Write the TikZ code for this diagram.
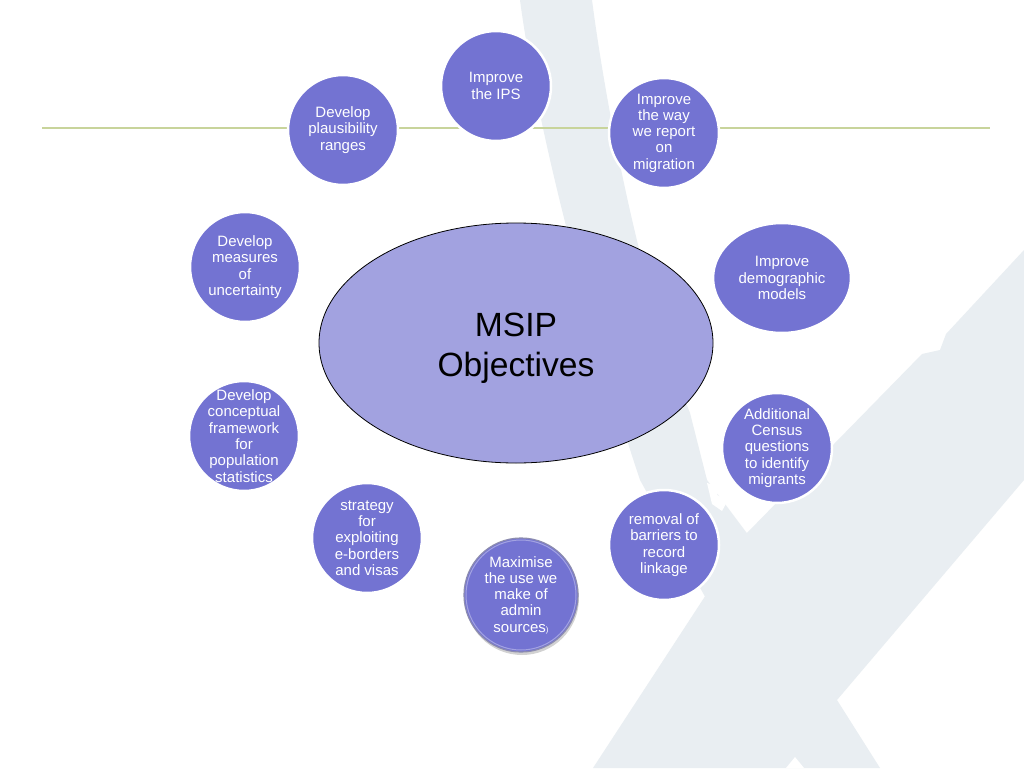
\documentclass[tikz,border=0pt]{standalone}
\usepackage{fontspec}
\setmainfont{Liberation Sans}
\usetikzlibrary{shapes.geometric,shadows}
\definecolor{circfill}{RGB}{115,115,210}
\definecolor{ellfill}{RGB}{162,162,224}
\definecolor{wmark}{RGB}{233,238,242}
\definecolor{gline}{RGB}{200,212,155}
\definecolor{bevel}{RGB}{140,140,175}
\begin{document}
\begin{tikzpicture}[x=1pt,y=-1pt,
  objcirc/.style={circle, fill=circfill, draw=white, line width=2.5pt, minimum size=110pt, inner sep=0pt},
  objtext/.style={text=white, align=center, font=\fontsize{15}{16.3}\selectfont, inner sep=0pt},
  wm/.style={fill=wmark, draw=none}]
% canvas
\fill[white] (0,0) rectangle (1024,768);
\useasboundingbox (0,0) rectangle (1024,768);
% watermark: curved upper-left arm
\path[wm] (520,0) -- (592,0) .. controls (605,100) and (640,290) .. (690,413)
  -- (707,480) -- (752,540) -- (708,602) -- (640,480)
  .. controls (600,360) and (540,150) .. (520,0) -- cycle;
% watermark: main diagonal band with lower-right leg
\path[wm] (593,768) -- (880,768) -- (837,700) -- (1024,480) -- (1024,250)
  -- (946,334) -- (940,350) -- (922,354) -- (745,535) -- cycle;
% small white notches of the watermark
\fill[white] (707,483) -- (721,487) -- (717,495) -- (728,500) -- (722,511) -- (712,504) -- cycle;
\fill[white] (786,768) -- (795,757) -- (804,768) -- cycle;
% green rule
\coordinate (gl-l) at (42,128);
\coordinate (gl-r) at (990,128);
\draw[gline, line width=2pt] (gl-l) -- (gl-r);
% centre ellipse
\node[ellipse, fill=ellfill, draw=black, line width=0.8pt, minimum width=394pt, minimum height=240pt, inner sep=0pt] (msip) at (516,343) {};
\node[align=center, font=\fontsize{33.6}{40}\selectfont, inner sep=0pt] (msip-t) at (516,348) {MSIP\\Objectives};
% objectives
\node[objcirc] (ips) at (496,86) {};
\node[objtext] (ips-t) at (ips) {Improve\\the IPS};
\node[objcirc] (plaus) at (343,130) {};
\node[objtext] (plaus-t) at (plaus) {Develop\\plausibility\\ranges};
\node[objcirc] (report) at (664,133) {};
\node[objtext] (report-t) at (report) {Improve\\the way\\we report\\on\\migration};
\node[ellipse, fill=circfill, draw=white, line width=2.5pt, minimum width=138pt, minimum height=110pt, inner sep=0pt] (demog) at (782,278) {};
\node[objtext] (demog-t) at (demog) {Improve\\demographic\\models};
\node[objcirc] (census) at (777,448) {};
\node[objtext] (census-t) at (census) {Additional\\Census\\questions\\to identify\\migrants};
\node[objcirc] (removal) at (664,545) {};
\node[objtext] (removal-t) at (removal) {removal of\\barriers to\\record\\linkage};
\node[circle, fill=circfill, draw=bevel, line width=1.2pt, minimum size=114pt, inner sep=0pt,
  drop shadow={shadow xshift=1pt, shadow yshift=-3pt, opacity=0.35}] (admin) at (521,595) {};
\draw[white, opacity=0.35, line width=1pt] (admin.center) circle (55pt);
\node[objtext] (admin-t) at (admin) {Maximise\\the use we\\make of\\admin\\sources{\fontsize{8}{8}\selectfont)}};
\node[objcirc] (strat) at (367,538) {};
\node[objtext] (strat-t) at (strat) {strategy\\for\\exploiting\\e-borders\\and visas};
\node[objcirc] (concept) at (244,436) {};
\node[objtext] (concept-t) at (concept) {Develop\\conceptual\\framework\\for\\population\\statistics};
\node[objcirc] (uncert) at (245,267) {};
\node[objtext] (uncert-t) at (uncert) {Develop\\measures\\of\\uncertainty};
\end{tikzpicture}
\end{document}
